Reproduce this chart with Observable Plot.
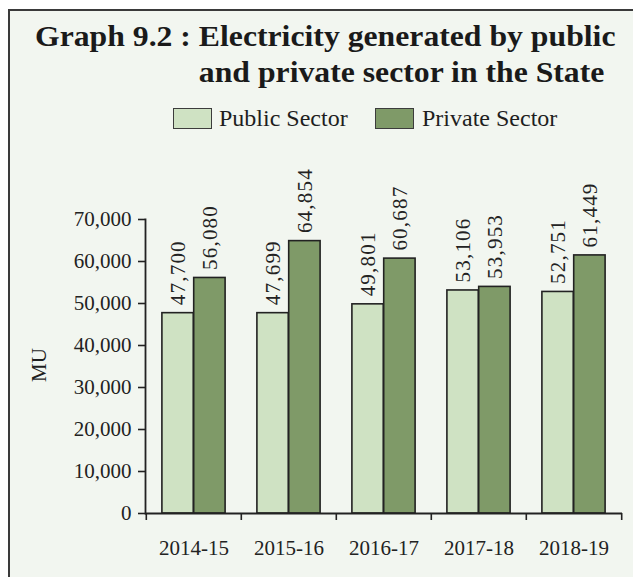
<!DOCTYPE html>
<html>
<head>
<meta charset="utf-8">
<script src="https://cdn.jsdelivr.net/npm/d3@7"></script>
<script src="https://cdn.jsdelivr.net/npm/@observablehq/plot@0.6"></script>
<style>
  html, body { margin: 0; padding: 0; background: #ffffff; }
  body { width: 633px; height: 577px; position: relative; overflow: hidden; font-family: "Liberation Serif", "DejaVu Serif", serif; color: #1e1e1e; }
  #panel { position: absolute; left: 8px; top: 9px; width: 700px; height: 700px; background: #f2f6f0; border-top: 2px solid #3a3a3a; border-left: 2px solid #3a3a3a; }
  #title { position: absolute; left: 35px; top: 18px; display: flex; font-weight: bold; font-size: 29.5px; line-height: 36px; white-space: nowrap; color: #1a1a1a; transform: scaleX(1.075); transform-origin: 0 0; }
  .sw { position: absolute; top: 108px; width: 37px; height: 19px; border: 1px solid #3c3c3c; }
  .lt { position: absolute; top: 106px; font-size: 24px; line-height: 24px; white-space: nowrap; }
  #ylab { position: absolute; left: 39px; top: 365px; font-size: 21px; line-height: 21px; transform: translate(-50%, -50%) rotate(-90deg); white-space: nowrap; }
  #chart { position: absolute; left: 0; top: 140px; }
  #chart svg g[aria-label="text"] text { letter-spacing: 1.2px; }
</style>
</head>
<body>
<div id="panel"></div>
<div id="title"><span>Graph 9.2 :&nbsp;</span><span id="t2"></span></div>
<div id="legend"></div>
<div id="ylab"></div>
<div id="chart"></div>
<script>
const titleLines = ["Electricity generated by public", "and private sector in the State"];
const years = ["2014-15", "2015-16", "2016-17", "2017-18", "2018-19"];
const publicSector = [47700, 47699, 49801, 53106, 52751];
const privateSector = [56080, 64854, 60687, 53953, 61449];
const yTicks = [0, 10000, 20000, 30000, 40000, 50000, 60000, 70000];
const seriesNames = ["Public Sector", "Private Sector"];
const seriesColors = ["#cfe2c3", "#7f9a68"];
const yLabel = "MU";

document.getElementById("t2").innerHTML = titleLines.join("<br>");
document.getElementById("ylab").textContent = yLabel;

const legend = document.getElementById("legend");
const swLeft = [173, 375], txLeft = [219, 422];
seriesNames.forEach((name, i) => {
  const sw = document.createElement("div");
  sw.className = "sw"; sw.style.left = swLeft[i] + "px"; sw.style.background = seriesColors[i];
  const t = document.createElement("div");
  t.className = "lt"; t.style.left = txLeft[i] + "px"; t.textContent = name;
  legend.appendChild(sw); legend.appendChild(t);
});

const pubData = years.map((year, i) => ({year, value: publicSector[i]}));
const privData = years.map((year, i) => ({year, value: privateSector[i]}));
const fmt = d3.format(",");

const W = 633, H = 437, mL = 145, mR = 11, mT = 79, mB = 64;
const bw = (W - mL - mR) / years.length;
const ink = "#222222";

const chart = Plot.plot({
  width: W, height: H,
  marginTop: mT, marginRight: mR, marginBottom: mB, marginLeft: mL,
  style: {background: "transparent", overflow: "visible", fontFamily: "Liberation Serif", fontSize: "21px", color: ink},
  x: {type: "band", domain: years, padding: 0},
  y: {domain: [0, 70000]},
  marks: [
    Plot.barY(pubData, {x: "year", y: "value", fill: seriesColors[0], stroke: ink, strokeWidth: 1.6, insetLeft: bw / 6, insetRight: bw / 2}),
    Plot.barY(privData, {x: "year", y: "value", fill: seriesColors[1], stroke: ink, strokeWidth: 1.6, insetLeft: bw / 2, insetRight: bw / 6}),
    Plot.text(pubData, {x: "year", y: "value", text: d => fmt(d.value), rotate: -90, textAnchor: "start", lineAnchor: "middle", dx: -bw / 6, dy: -8, fontSize: 21, fill: ink}),
    Plot.text(privData, {x: "year", y: "value", text: d => fmt(d.value), rotate: -90, textAnchor: "start", lineAnchor: "middle", dx: bw / 6, dy: -8, fontSize: 21, fill: ink}),
    Plot.frame({anchor: "left", stroke: ink, strokeWidth: 1.8}),
    Plot.ruleY([0], {stroke: ink, strokeWidth: 1.8}),
    Plot.axisY({ticks: yTicks, tickFormat: fmt, tickSize: 7, tickPadding: 7, fontSize: 21, label: null, strokeWidth: 1.6}),
    Plot.axisX({tickSize: 0, tickPadding: 27, fontSize: 21, label: null}),
    Plot.axisX({ticks: years, tickSize: 7, tickFormat: () => "", dx: -bw / 2, label: null, strokeWidth: 1.6}),
    Plot.axisX({ticks: [years[years.length - 1]], tickSize: 7, tickFormat: () => "", dx: bw / 2, label: null, strokeWidth: 1.6})
  ]
});
document.getElementById("chart").appendChild(chart);
</script>
</body>
</html>
